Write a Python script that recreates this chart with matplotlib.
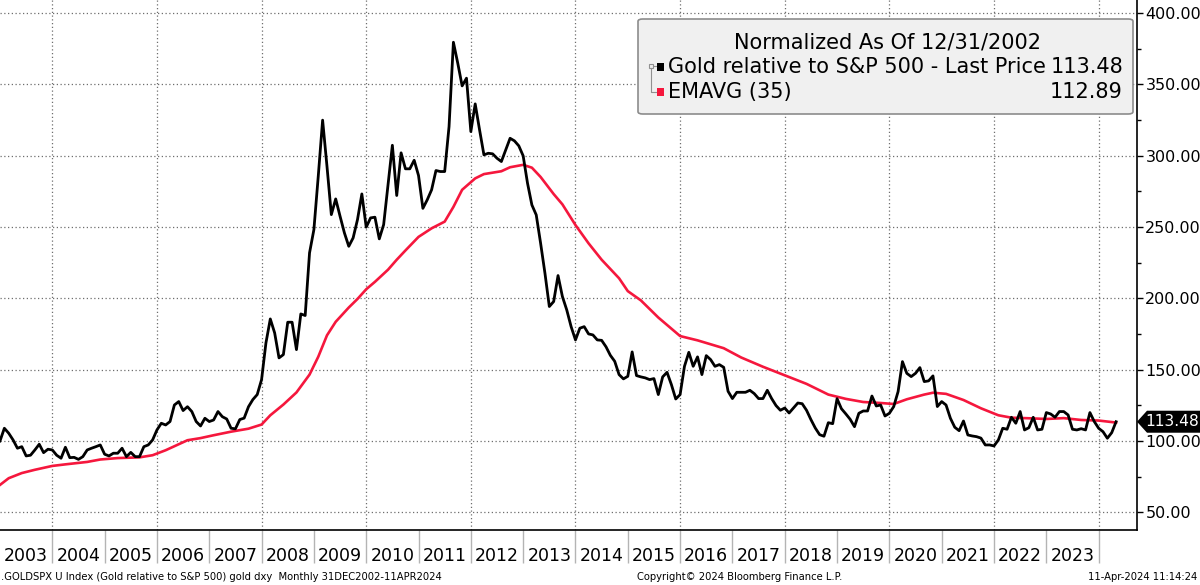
import numpy as np
import matplotlib
matplotlib.use("Agg")
import matplotlib.pyplot as plt
from matplotlib.patches import FancyBboxPatch, Polygon, Rectangle
from matplotlib.lines import Line2D
import matplotlib.transforms as mtransforms

# gold / S&P 500, normalized to 100 at 31 Dec 2002, monthly
dec_2002 = [100]
y2003 = [108.9, 105.4, 100.7, 94.9, 96, 89.5, 90, 93.7, 97.7, 91.8, 94.2, 93.7]
y2004 = [90, 87.9, 95.6, 88.3, 88.5, 87.1, 89, 93.7, 94.9, 96, 97.2, 90.7]
y2005 = [89.5, 91.4, 91.4, 94.9, 89, 92, 89, 89, 96, 97.2, 100.7, 107.7]
y2006 = [112.4, 111.2, 113.6, 125.2, 127.6, 121.3, 124, 120.6, 113.6, 110.5, 115.9, 113.6]
y2007 = [114.7, 120.6, 117, 115.4, 108.9, 108.5, 115, 116, 124, 129, 132.5, 143]
y2008 = [168.7, 185.5, 175.7, 158.2, 160.5, 183.2, 183.2, 164, 189, 187.9, 231.8, 248.1]
y2009 = [285.5, 324.8, 292.5, 258.6, 269.6, 257.5, 245.8, 236.4, 242.3, 255.1, 273.1, 249.8]
y2010 = [256.3, 256.8, 241.6, 251.6, 279.7, 307.2, 272, 301.9, 290.7, 290.7, 296.7, 286]
y2011 = [263, 269, 276, 289.5, 288.8, 288.8, 320.3, 379.4, 364.7, 348.8, 354.2, 316.8]
y2012 = [336.2, 318, 300.5, 301.6, 301.2, 298.1, 295.8, 304, 312.1, 310.3, 306.8, 299.8]
y2013 = [280.6, 265.4, 258.4, 238.6, 217.5, 194.2, 197.7, 215.9, 201.2, 191.8, 180.1, 170.8]
y2014 = [179, 180.1, 175, 174.3, 170.8, 170.5, 166, 160, 155.8, 146.5, 143.5, 145.3]
y2015 = [162.4, 145.8, 144.9, 144.2, 143, 143.7, 132.5, 144.9, 148.1, 139.5, 129.4, 132.5]
y2016 = [152.3, 162.1, 152.3, 158.9, 146.5, 159.8, 157, 152.3, 153.5, 151.6, 134.8, 129.7]
y2017 = [134.1, 134.1, 134.1, 135.5, 133.2, 129.7, 129.7, 135.5, 129.7, 124.8, 121.5, 123.1]
y2018 = [119.6, 123.1, 126.6, 126.1, 121.5, 115, 109.1, 104.4, 103.3, 112.8, 112.1, 129.6]
y2019 = [122.6, 119, 115.2, 110, 119.4, 121, 121, 131.5, 124.5, 125.2, 117.5, 119.4]
y2020 = [124.1, 134.6, 155.6, 147.4, 145.1, 147.4, 151.4, 141.6, 142.1, 145.6, 124.1, 127.6]
y2021 = [125.2, 115.9, 109.6, 107.2, 114, 104.2, 103.5, 103, 102, 97.2, 97.2, 96.5]
y2022 = [100.7, 108.9, 108.2, 116.6, 112.4, 120.6, 107.7, 109.3, 116.6, 107.7, 108.2, 119.9]
y2023 = [118.9, 116.6, 120.6, 120.6, 118.2, 108.2, 107.7, 108.6, 107.7, 119.9, 113.6, 108.9]
y2024 = [106.5, 101.9, 105.8, 113.48]

gold_spx = (dec_2002 + y2003 + y2004 + y2005 + y2006 + y2007 + y2008 + y2009
            + y2010 + y2011 + y2012 + y2013 + y2014 + y2015 + y2016 + y2017
            + y2018 + y2019 + y2020 + y2021 + y2022 + y2023 + y2024)

# EMAVG(35), read at a subset of months (months since Dec 2002)
ema_month = [0, 2, 5, 8, 12, 15, 20, 23, 27, 32, 35, 38, 43, 46, 49, 53, 57, 60,
             62, 65, 68, 71, 73, 75, 77, 80, 82, 84, 86, 89, 91, 93, 96, 99, 102,
             104, 106, 109, 111, 113, 115, 117, 120, 122, 124, 127, 129, 132, 135,
             138, 142, 144, 147, 151, 156, 160, 166, 170, 175, 180, 185, 190, 194,
             198, 202, 205, 208, 212, 214, 217, 221, 225, 229, 232, 236, 240, 244,
             248, 252, 256]
ema_val = [69.2, 73.9, 77.5, 79.8, 82.5, 83.6, 85.3, 87, 88, 88.5, 90, 93.5, 100.5,
           102, 104, 106.5, 108.6, 111.5, 118, 125.5, 134, 146.5, 159, 174, 183.5,
           193.5, 199.5, 206.3, 211.5, 220, 227, 233.5, 243, 249, 253.7, 264, 276,
           284, 287, 288, 289, 291.8, 293.5, 291.5, 285, 273, 265.8, 251.3, 238.5,
           227, 214, 205, 198.5, 186.5, 173.5, 170.5, 165, 158.5, 152, 146, 140,
           132.5, 129.5, 127.3, 126.6, 125.9, 129.2, 132.5, 133.8, 133, 128.7,
           122.9, 118, 116.3, 115.9, 115.4, 116, 114.7, 114.3, 112.89]

year_labels = list(range(2003, 2024))
last_price = "113.48"
last_ema = "112.89"

W, H = 1200, 585
fig = plt.figure(figsize=(W / 100, H / 100), dpi=100)
ax = fig.add_axes([0, 1 - 530 / H, 1137 / W, 530 / H])

x_gold = 2003 + np.arange(len(gold_spx)) / 12
x_ema = 2003 + np.array(ema_month) / 12

ax.set_xlim(2003, 2003 + 260.8 / 12)
ax.set_ylim(37.6, 409)

# dotted grid
for yv in range(50, 401, 50):
    ax.axhline(yv, color="#6e6e6e", lw=0.9, ls=(0, (1, 2)), zorder=1)
for yr in range(2004, 2025, 2):
    ax.axvline(yr, color="#6e6e6e", lw=0.9, ls=(0, (1, 2)), zorder=1)

ax.plot(x_ema, ema_val, color="#f5173d", lw=1.9, zorder=3)
ax.plot(x_gold, gold_spx, color="black", lw=2.0, zorder=4)

# axes styling
for s in ["top", "left"]:
    ax.spines[s].set_visible(False)
ax.spines["right"].set_linewidth(1.2)
ax.spines["bottom"].set_linewidth(1.2)

ax.yaxis.tick_right()
ax.set_yticks(range(50, 401, 50))
ax.set_yticks(range(75, 401, 50), minor=True)
ax.set_yticklabels([f"{v:.2f}" for v in range(50, 401, 50)])
ax.tick_params(axis="y", which="major", length=4, width=1, labelsize=11.5, pad=2)
ax.tick_params(axis="y", which="minor", length=3, width=1)

# year dividers below axis, labels centred in each year
ax.set_xticks(range(2004, 2025))
ax.set_xticklabels([])
ax.tick_params(axis="x", which="major", length=24, width=1, color="#b4b4b4", direction="out")
tr = mtransforms.blended_transform_factory(ax.transData, ax.transAxes)
for yr in year_labels:
    ax.text(yr + 0.5, -0.049, str(yr), transform=tr, ha="center", va="center",
            fontsize=12.5)


def fx(x):
    return x / W


def fy(y):
    return 1 - y / H


# legend box
box = FancyBboxPatch((fx(638), fy(114)), fx(1133) - fx(638), fy(19) - fy(114),
                     boxstyle="round,pad=0,rounding_size=0.004", transform=fig.transFigure,
                     fc="#f0f0f0", ec="#8c8c8c", lw=1.2, zorder=10)
fig.patches.append(box)
fig.text(fx(888), fy(43), "Normalized As Of 12/31/2002", ha="center", va="center",
         fontsize=15, zorder=11)
fig.text(fx(668), fy(67), "Gold relative to S&P 500 - Last Price", ha="left",
         va="center", fontsize=15, zorder=11)
fig.text(fx(1123), fy(67), last_price, ha="right", va="center", fontsize=15, zorder=11)
fig.text(fx(668), fy(92), "EMAVG (35)", ha="left", va="center", fontsize=15, zorder=11)
fig.text(fx(1123), fy(92), last_ema, ha="right", va="center", fontsize=15, zorder=11)
fig.patches.append(Rectangle((fx(657), fy(71)), fx(7), fy(0) - fy(8), transform=fig.transFigure,
                             fc="black", ec="none", zorder=11))
fig.patches.append(Rectangle((fx(657), fy(96)), fx(7), fy(0) - fy(8), transform=fig.transFigure,
                             fc="#f5173d", ec="none", zorder=11))
fig.patches.append(Rectangle((fx(649), fy(68)), fx(4), fy(0) - fy(4), transform=fig.transFigure,
                             fc="none", ec="#909090", lw=0.8, zorder=11))
fig.lines.append(Line2D([fx(651), fx(651), fx(656)], [fy(68), fy(92), fy(92)],
                        transform=fig.transFigure, color="#909090", lw=0.8, zorder=11))
fig.lines.append(Line2D([fx(653), fx(656)], [fy(66), fy(66)],
                        transform=fig.transFigure, color="#909090", lw=0.8, zorder=11))

# last value tag on the right axis
y_tag = ax.transData.transform((2020, float(last_price)))[1]
y_tag = 1 - (H - y_tag) / H
half = fy(0) - fy(11)
tag = Polygon([(fx(1137), y_tag), (fx(1147), y_tag + half), (fx(1200), y_tag + half),
               (fx(1200), y_tag - half), (fx(1147), y_tag - half)],
              closed=True, transform=fig.transFigure, fc="black", ec="none", zorder=12)
fig.patches.append(tag)
fig.text(fx(1172), y_tag, last_price, color="white", ha="center", va="center",
         fontsize=11.2, zorder=13)

# footer
fig.text(fx(1), fy(577), ".GOLDSPX U Index (Gold relative to S&P 500) gold dxy  Monthly 31DEC2002-11APR2024",
         ha="left", va="center", fontsize=7.2)
fig.text(fx(740), fy(577), "Copyright\u00a9 2024 Bloomberg Finance L.P.", ha="center",
         va="center", fontsize=7.2)
fig.text(fx(1197), fy(577), "11-Apr-2024 11:14:24", ha="right", va="center", fontsize=7.2)

fig.savefig("out.png", dpi=100)
